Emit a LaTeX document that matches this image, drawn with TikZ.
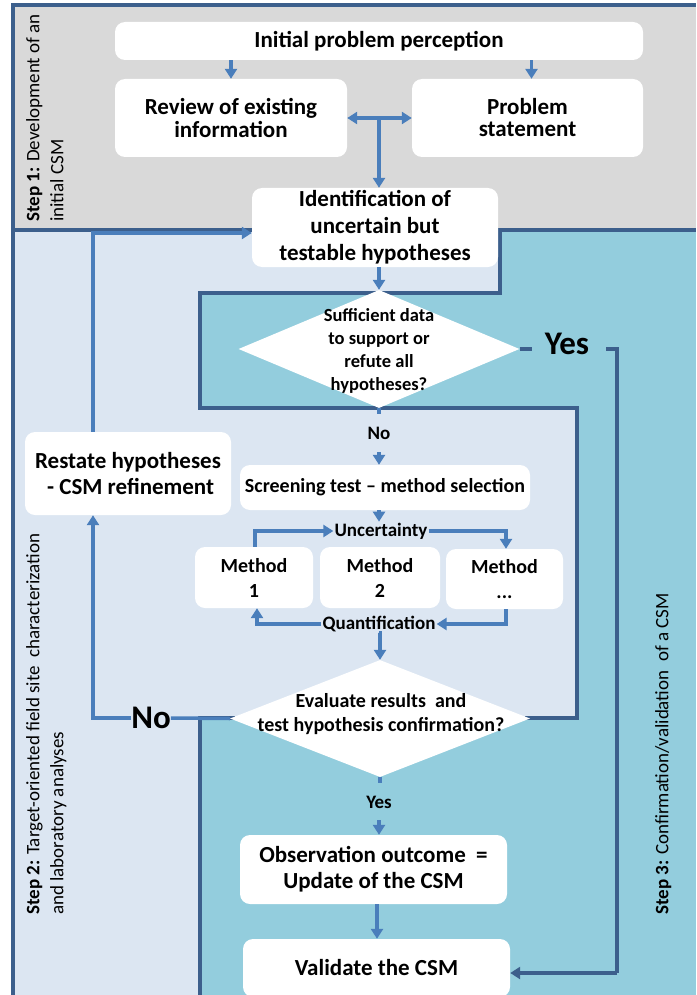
\documentclass[tikz,border=0pt]{standalone}
\usepackage{fontspec}
\setmainfont{Carlito}
\usetikzlibrary{arrows.meta,shapes.geometric}
\definecolor{grayA}{HTML}{D9D9D9}
\definecolor{stepTwo}{HTML}{DCE6F2}
\definecolor{stepThree}{HTML}{93CDDD}
\definecolor{darkline}{HTML}{3C5F8C}
\definecolor{arrowblue}{HTML}{4A7EBB}
\tikzset{
  box/.style={fill=white, rounded corners=10pt, inner sep=2pt, align=center},
  fbig/.style={font=\bfseries\fontsize{23}{23}\selectfont},
  fmid/.style={font=\bfseries\fontsize{20}{25}\selectfont},
  fsmall/.style={font=\bfseries\fontsize{19}{23}\selectfont},
  arr/.style={draw=arrowblue, line width=3.5pt, -{Triangle[length=10pt,width=12pt]}},
  ln/.style={draw=arrowblue, line width=3.5pt},
  dk/.style={draw=darkline, line width=3.5pt},
  dkarr/.style={draw=darkline, line width=3.5pt, -{Triangle[length=10pt,width=12pt]}},
  steplbl/.style={font=\fontsize{19}{24}\selectfont, align=left, inner sep=0pt, rotate=90}
}
\begin{document}
\begin{tikzpicture}[x=1pt,y=-1pt]
\useasboundingbox (0,0) rectangle (696,995);
% backgrounds
\fill[grayA] (13,5) rectangle (696,230);
\fill[stepThree] (13,230) rectangle (696,995);
\fill[stepTwo] (13,230) -- (500,230) -- (500,293) -- (200,293) -- (200,408) -- (577,408) -- (577,718) -- (200,718) -- (200,995) -- (13,995) -- cycle;
% frame and boundaries
\draw[dk] (13,995) -- (13,5) -- (696,5);
\draw[dk] (13,230) -- (696,230);
\draw[dk] (500,230) -- (500,293) -- (200,293) -- (200,408) -- (577,408) -- (577,718) -- (525,718);
\draw[dk] (200,995) -- (200,718) -- (235,718);
% step labels
\node[steplbl, anchor=north west] (s1) at (26,222) {\textbf{Step 1:} Development of an\\initial CSM};
\node[steplbl, anchor=north west] (s2) at (26,915) {\textbf{Step 2:} Target-oriented field site\ \ characterization\\and laboratory analyses};
\node[steplbl, anchor=north west] (s3) at (655,915) {\textbf{Step 3:} Confirmation/validation\ \ of a CSM};
% boxes
\node[box, fbig, minimum width=528pt, minimum height=38pt] (init) at (379,41) {Initial problem perception};
\node[box, minimum width=232pt, minimum height=78pt, font=\bfseries\fontsize{23}{23}\selectfont] (review) at (231,118) {Review of existing\\information};
\node[box, minimum width=231pt, minimum height=78pt, font=\bfseries\fontsize{23}{22}\selectfont] (problem) at (527.5,118) {Problem\\statement};
\node[box, minimum width=246pt, minimum height=79pt, font=\bfseries\fontsize{23}{27}\selectfont] (ident) at (375,227.5) {Identification of\\uncertain but\\testable hypotheses};
\node[diamond, fill=white, minimum width=281pt, minimum height=118pt, inner sep=0pt] (d1) at (379,349) {};
\node[font=\bfseries\fontsize{18.5}{23}\selectfont, align=center, inner sep=0pt] (d1t) at (379,351) {Sufficient data\\to support or\\refute all\\hypotheses?};
\node[fsmall, inner sep=0pt, minimum height=38pt] (noA) at (379,433) {No};
\node[box, fmid, minimum width=290pt, minimum height=45pt] (screen) at (385,487.5) {Screening test -- method selection};
\node[fsmall, inner sep=1pt] (unc) at (381,531) {Uncertainty};
\node[box, fmid, minimum width=118pt, minimum height=61pt] (m1) at (254,577.5) {Method\\1};
\node[box, fmid, minimum width=120pt, minimum height=61pt] (m2) at (380,577.5) {Method\\2};
\node[box, fmid, minimum width=117pt, minimum height=60pt] (m3) at (504.5,579) {Method\\...};
\node[fsmall, inner sep=1pt] (quant) at (379,624) {Quantification};
\node[diamond, fill=white, minimum width=300pt, minimum height=117pt, inner sep=0pt] (d2) at (380,718.5) {};
\node[font=\bfseries\fontsize{20}{24}\selectfont, align=center, inner sep=0pt] (d2t) at (381,714) {Evaluate results\ \ and\\test hypothesis confirmation?};
\node[fsmall, inner sep=0pt, minimum height=36pt] (yesB) at (379,802) {Yes};
\node[box, minimum width=267pt, minimum height=69pt, font=\bfseries\fontsize{23}{26}\selectfont] (obs) at (373.5,869.5) {Observation outcome\ \ =\\Update of the CSM};
\node[box, fbig, minimum width=267pt, minimum height=58pt] (val) at (376.5,968) {Validate the CSM};
\node[box, minimum width=206pt, minimum height=83pt, font=\bfseries\fontsize{23}{26}\selectfont] (restate) at (128,473.5) {Restate hypotheses\\\ - CSM refinement};
\node[font=\bfseries\fontsize{33}{36}\selectfont, inner sep=0pt] (yesA) at (567,344) {Yes};
\node[font=\bfseries\fontsize{33}{36}\selectfont, inner sep=0pt] (noB) at (151,718) {No};
% coordinates
\coordinate (tj) at (379,118);
\coordinate (rt) at (93,233);
\coordinate (yc) at (617,349);
\coordinate (vc) at (617,973);
% connectors
\draw[arr] (review.north |- init.south) -- (review.north);
\draw[arr] ([xshift=4pt]problem.north |- init.south) -- ([xshift=4pt]problem.north);
\draw[ln, {Triangle[length=10pt,width=12pt]}-{Triangle[length=10pt,width=12pt]}] (review.east) -- (problem.west);
\draw[arr] (tj) -- (tj |- ident.north);
\draw[arr] (d1.north |- ident.south) -- (d1.north);
\draw[dk] (d1.east) -- ([xshift=12pt]d1.east);
\draw[dk] ([xshift=-11pt]yc) -- (yc) -- (vc);
\draw[dkarr] (vc) -- (vc -| val.east);
\draw[ln] (d1.south) -- ([yshift=-6pt]d1.south);
\draw[arr] (noA.south) -- (noA.south |- screen.north);
\draw[arr] (d1.south |- screen.south) -- (d1.south |- unc.north);
\draw[arr] ([xshift=1pt]m1.north) |- (unc.west);
\draw[arr] (unc.east) -| ([xshift=1.5pt]m3.north);
\draw[arr] ([xshift=1.5pt]m3.south) |- (quant.east);
\draw[arr] (quant.west) -| ([xshift=3pt]m1.south);
\draw[arr] (quant.south) -- (quant.south -| d2.north) -- (d2.north);
\draw[ln] (d2.west) -- (noB.east);
\draw[arr] (noB.west) -- (rt |- noB.west) -- (rt |- restate.south);
\draw[arr] (rt |- restate.north) -- (rt) -- (rt -| ident.west);
\draw[ln] (d2.south) -- ([yshift=-6pt]d2.south);
\draw[arr] (yesB.south) -- (yesB.south |- obs.north);
\draw[arr] ([xshift=3.5pt]obs.south) -- ([xshift=3.5pt]obs.south |- val.north);
\end{tikzpicture}
\end{document}
